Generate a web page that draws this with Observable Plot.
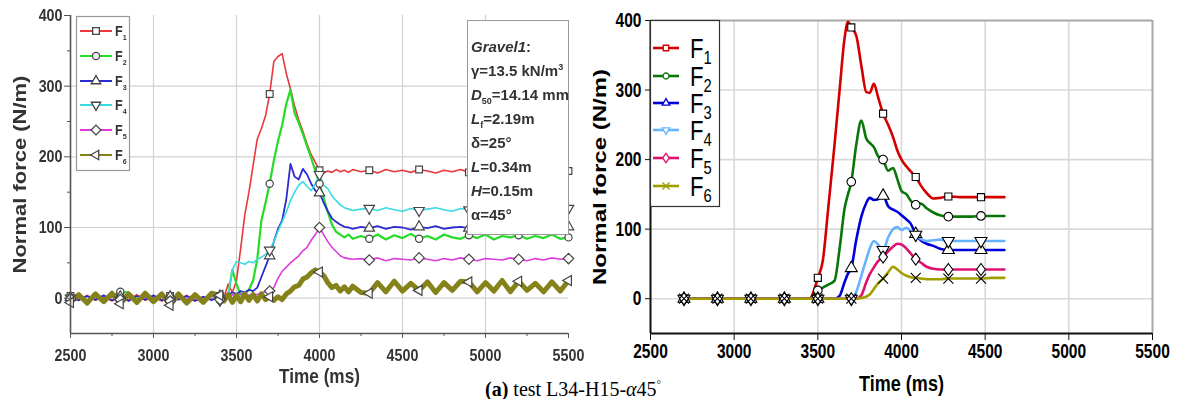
<!DOCTYPE html>
<html><head><meta charset="utf-8">
<script src="https://cdn.jsdelivr.net/npm/d3@7"></script>
<script src="https://cdn.jsdelivr.net/npm/@observablehq/plot@0.6"></script>
<style>
body{margin:0;background:#fff;}
#wrap{position:relative;width:1177px;height:399px;overflow:hidden;background:#fff;}
#left,#right{position:absolute;top:0;}
#left{left:0;filter:blur(0.45px);} #right{left:590px;}
#info{position:absolute;left:467px;top:20px;width:102px;height:215px;border:1px solid #999;background:#fff;filter:blur(0.4px);
  font:bold 15px "Liberation Sans",Arial,sans-serif;color:#333;padding:14px 0 0 3px;box-sizing:border-box;line-height:24px;white-space:nowrap;}
#info sub,#info sup{font-size:60%;line-height:0;}
#caption{position:absolute;left:485px;top:379px;font:20px "Liberation Serif","Times New Roman",serif;line-height:20px;color:#000;white-space:nowrap;}
#caption sup{font-size:55%;line-height:0;}
.ovl{position:absolute;overflow:visible;}
.blur{filter:blur(0.45px);}
</style></head>
<body>
<div id="wrap">
  <div id="left"></div>
  <div id="right"></div>
</div>
<script>
// ---------- shared ----------
const seriesNames = ["F1","F2","F3","F4","F5","F6"];
const xDomain = [2500, 5500];
const yDomain = [-50, 400];
const xTicks = [2500, 3000, 3500, 4000, 4500, 5000, 5500];
const yTicks = [0, 100, 200, 300, 400];
const gridX = [3000, 3500, 4000, 4500, 5000];
const gridY = [0, 100, 200, 300];
const leftXMinor = [2750, 3250, 3750, 4250, 4750, 5250];
const leftYMinor = [50, 150, 250, 350];
const xLabel = "Time (ms)";
const yLabel = "Normal force (N/m)";

// ---------- left panel (measured) ----------
const leftTime = [2500,2550,2600,2650,2700,2750,2800,2850,2900,2950,3000,3050,3100,3150,3200,3250,3300,3350,3400,
  3425,3450,3475,3500,3525,3550,3575,3600,3625,3650,3675,3700,3725,3750,3775,3800,3825,3850,3875,3900,3925,3950,3975,4000,4025,4050,4075,4100,4125,4150,4175,4200,
  4250,4300,4350,4400,4450,4500,4550,4600,4650,4700,4750,4800,4850,4900,4950,5000,5050,5100,5150,5200,5250,5300,5350,5400,5450,5500];
const leftF1 = [3,-2,4,-3,2,-4,3,-2,5,-3,2,-4,3,-2,4,-3,2,-2,3,
  2,20,8,25,70,118,150,188,225,240,258,289,335,342,346,318,296,272,252,236,218,203,192,181,177,180,178,182,179,181,178,182,
  179,181,177,182,179,181,178,182,180,177,181,179,182,178,180,181,177,181,179,182,178,180,181,179,182,180];
const leftF2 = [-2,4,-3,5,-2,3,9,8,-2,4,-3,5,-2,3,-4,4,-2,5,-3,
  3,5,40,20,5,6,12,25,55,110,135,162,195,222,245,275,295,262,248,232,215,198,180,162,142,122,104,94,90,86,90,84,
  88,84,90,83,89,85,91,84,88,83,90,86,84,89,85,90,83,88,86,89,84,88,85,90,84,86];
const leftF3 = [1,-3,3,-2,4,-3,2,-4,3,-2,4,-3,2,-2,3,-4,2,-3,3,
  3,5,8,6,10,8,12,10,15,30,45,60,80,98,110,140,190,172,168,183,175,162,152,149,135,123,113,108,104,101,100,98,
  101,99,102,98,101,100,97,101,99,102,98,100,101,99,102,98,100,101,99,102,98,100,101,99,100,101];
const leftF4 = [0,3,-3,4,-2,3,-3,2,-4,3,-2,4,-3,2,-3,3,-2,2,-3,
  0,5,40,52,50,48,52,50,55,58,62,68,80,95,108,122,138,150,160,165,158,152,162,175,160,155,145,138,132,128,126,124,
  126,127,124,128,125,123,127,124,126,128,125,123,127,125,124,128,126,124,127,125,123,127,125,126,124,127];
const leftF5 = [-1,2,-4,3,-3,2,-2,4,-3,2,-3,3,-4,2,-2,3,-3,4,-2,
  2,3,5,4,6,5,4,6,5,8,9,10,15,28,38,44,50,55,60,67,72,82,90,100,90,80,72,66,60,57,56,55,
  56,54,57,53,56,55,54,57,55,53,56,54,57,55,53,56,55,54,57,55,53,56,54,57,55,56];
const leftF6 = [-6,5,-7,6,-5,7,-8,6,-6,7,-5,6,-10,6,-7,5,-6,7,4,
  -4,5,-6,4,-5,6,-3,5,-4,6,-2,2,-3,2,-2,6,10,16,18,27,30,36,40,37,32,22,15,18,10,16,9,17,
  8,7,22,9,24,10,21,11,23,8,22,11,24,23,9,22,10,25,9,24,11,21,9,23,10,25];
const leftMarkerTimes = [2500,2800,3100,3400,3700,4000,4300,4600,4900,5200,5500];
const leftColors = ["#e8383c","#26dc26","#2b2bd0","#3adbe0","#dc3cdc","#85821a"];
const leftWidths = [1.6, 2.2, 1.8, 1.6, 1.6, 5];
const infoLines = ["<i>Gravel1</i>:", "\u03b3=13.5 kN/m<sup>3</sup>", "<i>D</i><sub>50</sub>=14.14 mm",
  "<i>L</i><sub>f</sub>=2.19m", "\u03b4=25\u00b0", "<i>L</i>=0.34m", "<i>H</i>=0.15m", "\u03b1=45\u00b0"];

// ---------- right panel (simulated) ----------
const rightTime = [2700,2900,3100,3300,3450,3500,3530,3560,3600,3630,3660,3680,3700,3730,3760,3790,3810,3835,3860,3890,
  3920,3950,3975,4000,4030,4055,4085,4115,4150,4190,4230,4280,4350,4420,4475,4540,4615];
const rightF1 = [0,0,0,0,0,30,55,125,222,300,375,398,390,378,335,297,296,309,290,266,250,232,213,200,190,183,175,163,152,144,145,147,146,146,146,146,146];
const rightF2 = [0,0,0,0,0,12,16,20,26,72,130,150,168,222,256,230,224,218,205,200,184,188,172,155,150,141,135,137,130,124,120,118,118,118,119,119,119];
const rightF3 = [0,0,0,0,0,0,0,0,0,4,24,36,44,85,118,138,145,142,143,148,133,128,125,120,114,108,93,84,79,76,72,70,70,70,70,70,70];
const rightF4 = [0,0,0,0,0,0,0,0,0,0,0,0,0,10,33,57,72,83,78,70,88,100,103,99,102,97,92,86,83,84,85,83,83,83,83,83,83];
const rightF5 = [0,0,0,0,0,0,0,0,0,0,0,0,0,0,5,24,35,45,54,60,68,75,79,78,72,65,57,52,46,43,42,42,42,42,42,42,42];
const rightF6 = [0,0,0,0,0,0,0,0,0,0,0,0,0,0,1,3,6,14,22,29,38,46,42,37,33,31,30,29,28,28,28,29,29,29,29,30,30];
const rightMarkerTimes = [2700,2900,3100,3300,3500,3700,3890,4085,4280,4475];
const rightColors = ["#d40000","#0a760a","#0000dc","#66b2ff","#de1070","#a29e00"];
const captionHTML = "<b>(a)</b> test L34-H15-<i>\u03b1</i>45<sup>\u00b0</sup>";

// ---------- symbols ----------
function poly(pts){ return {draw(ctx, size){ const k=Math.sqrt(size/Math.PI);
  ctx.moveTo(pts[0][0]*k, pts[0][1]*k); for(let i=1;i<pts.length;i++) ctx.lineTo(pts[i][0]*k, pts[i][1]*k); ctx.closePath(); }}; }
const symSquare = {draw(ctx,size){ const s=Math.sqrt(size)/2; ctx.rect(-s,-s,2*s,2*s);} };
const symCircle = {draw(ctx,size){ const r=Math.sqrt(size/Math.PI); ctx.moveTo(r,0); ctx.arc(0,0,r,0,2*Math.PI);} };
const symTriUp = poly([[0,-1.15],[1,0.58],[-1,0.58]]);
const symTriDown = poly([[0,1.15],[1,-0.58],[-1,-0.58]]);
const symTriLeft = poly([[-1.15,0],[0.58,-1],[0.58,1]]);
const symDiamondL = poly([[0,-1],[1,0],[0,1],[-1,0]]);
const symDiamondR = poly([[0,-1.3],[0.95,0],[0,1.3],[-0.95,0]]);
const symTimes = {draw(ctx,size){ const k=Math.sqrt(size/Math.PI); ctx.moveTo(-k,-k); ctx.lineTo(k,k); ctx.moveTo(-k,k); ctx.lineTo(k,-k);} };
const leftSyms = [symSquare, symCircle, symTriUp, symTriDown, symDiamondL, symTriLeft];
const leftR = [3.8, 3.6, 5.2, 5.2, 5.2, 5];
const rightSyms = [symSquare, symCircle, symTriUp, symTriDown, symDiamondR, symTimes];
const rightR = [4, 4.3, 6, 6, 4.6, 5];

function toLong(times, arrays){
  return seriesNames.map((s,i)=> times.map((t,j)=>({series:s, t, v:arrays[i][j]})));
}
// squeeze text glyphs in their local frame (the reference figure is horizontally compressed)
const isNum = v => v != null && /^-?[\d.]+$/.test(v);
function squeezeSel(sel, sx, sy){
  sel.each(function(){
    const xa = this.getAttribute("x"), ya = this.getAttribute("y");
    let pre = "";
    if (isNum(xa) || isNum(ya)) {
      pre = `translate(${isNum(xa) ? xa : 0},${isNum(ya) ? ya : 0}) `;
      if (isNum(xa)) this.removeAttribute("x");
      if (isNum(ya)) this.removeAttribute("y");
    }
    const t = this.getAttribute("transform") || "";
    this.setAttribute("transform", `${t} ${pre}scale(${sx},${sy})`.trim());
  });
}
function squeezeTicks(svgNode, sx){
  squeezeSel(d3.select(svgNode).selectAll('g[aria-label="x-axis tick label"] text, g[aria-label="y-axis tick label"] text'), sx, 1);
}
function squeezeText(svgNode, content, sx, sy){
  squeezeSel(d3.select(svgNode).selectAll("text").filter(function(){ return this.textContent === content; }), sx, sy);
}
const fmt = d3.format("d");

// ---------- left plot ----------
const leftSeries = toLong(leftTime, [leftF1,leftF2,leftF3,leftF4,leftF5,leftF6]);
const leftPlot = Plot.plot({
  width: 590, height: 399,
  marginLeft: 70, marginRight: 22, marginTop: 15, marginBottom: 66,
  x: {domain: xDomain, label: null},
  y: {domain: yDomain, label: null},
  style: {fontFamily: "'Liberation Sans', Arial, sans-serif", fontSize: "17px", fontWeight: "bold", color: "#333", background: "transparent", overflow: "visible"},
  marks: [
    Plot.ruleX(gridX, {stroke: "#d2d2d2", strokeWidth: 1.2}),
    Plot.ruleY(gridY, {stroke: "#d2d2d2", strokeWidth: 1.2}),
    ...leftSeries.map((d,i)=> Plot.line(d, {x:"t", y:"v", stroke: leftColors[i], strokeWidth: leftWidths[i], strokeLinejoin:"round"})),
    ...leftSeries.map((d,i)=> Plot.dot(d.filter(p=>leftMarkerTimes.includes(p.t)), {x:"t", y:"v", symbol: leftSyms[i], r: leftR[i], stroke:"#454545", fill:"white", strokeWidth:1.2})),
    Plot.ruleX([xDomain[0]], {stroke:"#555", strokeWidth:1.6}),
    Plot.ruleY([yDomain[0]], {stroke:"#555", strokeWidth:1.6}),
    Plot.axisX({ticks: xTicks, tickSize: 5, tickPadding: 10, tickFormat: fmt, label: null, stroke: "#555"}),
    Plot.axisX({ticks: leftXMinor, tickSize: 3, tickFormat: () => "", label: null, stroke: "#555"}),
    Plot.axisY({ticks: yTicks, tickSize: 6, tickPadding: 2, tickFormat: fmt, label: null, stroke: "#555"}),
    Plot.axisY({ticks: leftYMinor, tickSize: 3, tickFormat: () => "", label: null, stroke: "#555"}),
    Plot.text([xLabel], {frameAnchor: "bottom", dy: 49, fontSize: 20, fontWeight: "bold", fill: "#333"}),
    Plot.text([yLabel], {frameAnchor: "left", textAnchor: "middle", dx: -50, rotate: -90, fontSize: 22, fontWeight: "bold", fill: "#333"})
  ]
});
squeezeTicks(leftPlot, 0.84);
squeezeText(leftPlot, xLabel, 0.86, 1);
squeezeText(leftPlot, yLabel, 1, 0.8);
document.getElementById("left").appendChild(leftPlot);

// ---------- right plot ----------
const rightSeries = toLong(rightTime, [rightF1,rightF2,rightF3,rightF4,rightF5,rightF6]);
const rightPlot = Plot.plot({
  width: 587, height: 399,
  marginLeft: 60, marginRight: 25, marginTop: 20, marginBottom: 66,
  x: {domain: xDomain, label: null},
  y: {domain: yDomain, label: null},
  style: {fontFamily: "'Liberation Sans', Arial, sans-serif", fontSize: "21px", fontWeight: "bold", color: "#000", background: "transparent", overflow: "visible"},
  marks: [
    Plot.ruleX(gridX, {stroke: "#d9d9d9", strokeWidth: 1.6}),
    Plot.ruleY(gridY, {stroke: "#d9d9d9", strokeWidth: 1.6}),
    Plot.ruleX([xDomain[1]], {stroke:"#a8a8a8", strokeWidth:2}),
    Plot.ruleY([yDomain[1]], {stroke:"#a8a8a8", strokeWidth:2}),
    ...rightSeries.map((d,i)=> Plot.line(d, {x:"t", y:"v", stroke: rightColors[i], strokeWidth: 2.6, curve: "monotone-x"})),
    ...rightSeries.map((d,i)=> Plot.dot(d.filter(p=>rightMarkerTimes.includes(p.t)), {x:"t", y:"v", symbol: rightSyms[i], r: rightR[i], stroke:"#000", fill: i===5 ? "none" : "white", strokeWidth:1.1})),
    Plot.ruleX([xDomain[0]], {stroke:"#111", strokeWidth:2}),
    Plot.ruleY([yDomain[0]], {stroke:"#111", strokeWidth:2}),
    Plot.axisX({ticks: xTicks, tickSize: 7, tickPadding: 3, tickFormat: fmt, label: null, stroke: "#111"}),
    Plot.axisY({ticks: yTicks, tickSize: 5, tickPadding: 4, tickFormat: fmt, label: null, stroke: "#111"}),
    Plot.text([xLabel], {frameAnchor: "bottom", dy: 57, fontSize: 22, fontWeight: "bold", fill: "#000"}),
    Plot.text([yLabel], {frameAnchor: "left", textAnchor: "middle", dx: -51, rotate: -90, fontSize: 24, fontWeight: "bold", fill: "#000"})
  ]
});
squeezeTicks(rightPlot, 0.74);
squeezeText(rightPlot, xLabel, 0.82, 1);
squeezeText(rightPlot, yLabel, 1, 0.8);
document.getElementById("right").appendChild(rightPlot);

// ---------- overlays: legends, info box, caption ----------
const wrap = document.getElementById("wrap");

function legend({left, top, w, h, rowY, lineX0, lineX1, textX, colors, syms, symSize, symStroke, symFillNone, border, fontFamily, fontSize, fontWeight, subSize, subDy, textColor, lineWidth, sx, cls}){
  const svg = d3.create("svg").attr("class","ovl " + (cls||"")).attr("width", w).attr("height", h)
    .style("left", left+"px").style("top", top+"px");
  svg.append("rect").attr("x",0.5).attr("y",0.5).attr("width",w-1).attr("height",h-1).attr("fill","#fff").attr("stroke",border).attr("stroke-width",1.2);
  seriesNames.forEach((s,i)=>{
    const y = rowY[i];
    svg.append("line").attr("x1",lineX0).attr("x2",lineX1).attr("y1",y).attr("y2",y).attr("stroke",colors[i]).attr("stroke-width",lineWidth);
    svg.append("path").attr("transform",`translate(${(lineX0+lineX1)/2},${y})`)
      .attr("d", d3.symbol().type(syms[i]).size(symSize[i])())
      .attr("fill", symFillNone && i===5 ? "none" : "#fff").attr("stroke", symStroke || colors[i]).attr("stroke-width",1.3);
    const t = svg.append("text").attr("transform", `translate(${textX},${y + fontSize*0.36}) scale(${sx},1)`)
      .attr("font-family",fontFamily).attr("font-size",fontSize).attr("font-weight",fontWeight).attr("fill",textColor);
    t.append("tspan").text(s[0]);
    t.append("tspan").attr("font-size",subSize).attr("dy",subDy).text(s.slice(1));
  });
  wrap.appendChild(svg.node());
}

legend({left:76, top:16, w:54, h:155, rowY:[15,40,65,89,114,139], lineX0:4, lineX1:36, textX:39,
  colors:leftColors, syms:leftSyms, symSize:[45,40,70,70,75,70], symStroke:"#454545", symFillNone:false, border:"#999",
  fontFamily:"'Liberation Sans', Arial, sans-serif", fontSize:14, fontWeight:"bold", subSize:8, subDy:4, textColor:"#333", lineWidth:2, sx:0.9, cls:"blur"});

legend({left:650, top:20, w:70, h:187, rowY:[28,56,83,110,138,166], lineX0:3, lineX1:29, textX:40,
  colors:rightColors, syms:rightSyms, symSize:[30,28,45,45,40,40], symStroke:null, symFillNone:true, border:"#333",
  fontFamily:"'Liberation Sans', Arial, sans-serif", fontSize:27, fontWeight:"normal", subSize:18, subDy:6, textColor:"#000", lineWidth:2.6, sx:0.82});

const info = document.createElement("div");
info.id = "info";
info.innerHTML = infoLines.map(l=>`<div>${l}</div>`).join("");
wrap.appendChild(info);

const cap = document.createElement("div");
cap.id = "caption";
cap.innerHTML = captionHTML;
wrap.appendChild(cap);
</script>
</body></html>
